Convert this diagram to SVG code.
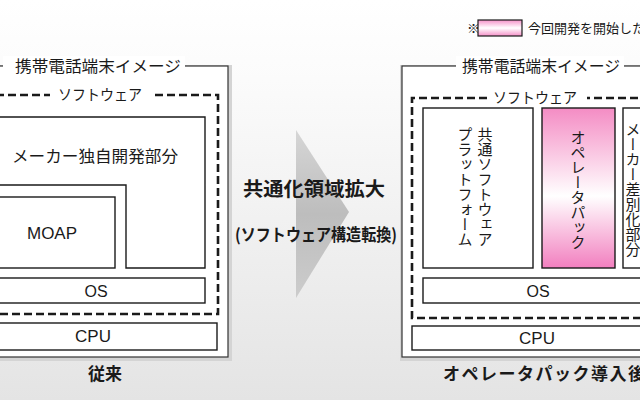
<svg xmlns="http://www.w3.org/2000/svg" width="640" height="400" viewBox="0 0 640 400">
  <defs>
    <linearGradient id="bg" x1="0" y1="0" x2="0" y2="1">
      <stop offset="0" stop-color="#ffffff"/>
      <stop offset="0.2" stop-color="#fbfbfb"/>
      <stop offset="1" stop-color="#e4e4e4"/>
    </linearGradient>
    <linearGradient id="pink" x1="0" y1="0" x2="0" y2="1">
      <stop offset="0" stop-color="#f48cc4"/>
      <stop offset="0.55" stop-color="#ffffff"/>
      <stop offset="1" stop-color="#f27fbf"/>
    </linearGradient>
    <linearGradient id="pinkLegend" x1="0" y1="0" x2="0" y2="1">
      <stop offset="0" stop-color="#f590c8"/>
      <stop offset="0.5" stop-color="#ffffff"/>
      <stop offset="1" stop-color="#f590c8"/>
    </linearGradient>
    <linearGradient id="arrowGrad" x1="0" y1="0" x2="0" y2="1">
      <stop offset="0" stop-color="#d6d6d6"/>
      <stop offset="0.5" stop-color="#bdbdbd"/>
      <stop offset="1" stop-color="#cccccc"/>
    </linearGradient>
    <style>
      text { font-family: "Noto Sans CJK JP", "Noto Sans", sans-serif; fill: #1a1a1a; }
      .latin { font-family: "Liberation Sans", Arial, sans-serif; }
      .outer { fill: #ffffff; stroke: #333333; stroke-width: 1.2; }
      .shadow { fill: none; stroke: #d4d4d4; stroke-width: 4; }
      .box { fill: #ffffff; stroke: #1a1a1a; stroke-width: 1.4; }
      .dash { fill: none; stroke: #1a1a1a; stroke-width: 2.6; stroke-dasharray: 8 4; }
      .t16 { font-size: 16px; }
      .t15 { font-size: 15px; }
      .bold { font-weight: bold; }
      .vert { writing-mode: vertical-rl; font-size: 15px; }
    </style>
  </defs>

  <rect x="0" y="0" width="640" height="400" fill="url(#bg)"/>

  <!-- Legend -->
  <g id="legend">
    <text x="467" y="33" font-size="13">※</text>
    <rect x="478" y="20" width="44" height="16" fill="url(#pinkLegend)" stroke="#1a1a1a" stroke-width="1.2"/>
    <text x="528" y="33" font-size="13">今回開発を開始した</text>
  </g>

  <!-- Left panel -->
  <g id="left-panel">
    <rect class="shadow" x="-10" y="67" width="240" height="292"/>
    <rect class="outer" x="-10" y="66" width="238" height="291"/>
    <rect x="3" y="56" width="182" height="20" fill="#ffffff"/>
    <text class="t16" x="98" y="72" text-anchor="middle" textLength="166" lengthAdjust="spacingAndGlyphs">携帯電話端末イメージ</text>
  </g>

  <g id="left-software">
    <path class="dash" d="M-4,95 H50 M155,95 H218 V314 H-4"/>
    <text class="t15" x="100" y="100" text-anchor="middle" textLength="84" lengthAdjust="spacingAndGlyphs">ソフトウェア</text>
  </g>

  <g id="left-maker">
    <path class="box" d="M-5,117 H205 V268 H126 V185 H-5"/>
    <text class="t16" x="95" y="162" text-anchor="middle" textLength="166" lengthAdjust="spacingAndGlyphs">メーカー独自開発部分</text>
  </g>

  <g id="left-moap">
    <rect class="box" x="-5" y="197" width="120" height="71"/>
    <text class="latin" font-size="17" x="52" y="239" text-anchor="middle">MOAP</text>
  </g>

  <g id="left-os">
    <rect class="box" x="-5" y="278" width="210" height="25"/>
    <text class="latin" font-size="16" x="96" y="297" text-anchor="middle">OS</text>
  </g>

  <g id="left-cpu">
    <rect class="box" x="-5" y="323" width="222" height="27"/>
    <text class="latin" font-size="17" x="93" y="342" text-anchor="middle">CPU</text>
  </g>

  <g id="left-caption">
    <text class="bold" font-size="17" x="105" y="380" text-anchor="middle">従来</text>
  </g>

  <!-- Middle arrow -->
  <g id="arrow">
    <polygon points="296,130 349,212 296,298" fill="url(#arrowGrad)"/>
    <text class="bold" font-size="19" x="314" y="196" text-anchor="middle" textLength="142" lengthAdjust="spacingAndGlyphs">共通化領域拡大</text>
    <text class="bold" font-size="17" x="316" y="241" text-anchor="middle" textLength="162" lengthAdjust="spacingAndGlyphs">(ソフトウェア構造転換)</text>
  </g>

  <!-- Right panel -->
  <g id="right-panel">
    <rect class="shadow" x="402" y="67" width="260" height="292"/>
    <rect class="outer" x="402" y="66" width="260" height="291"/>
    <rect x="456" y="56" width="168" height="20" fill="#ffffff"/>
    <text class="t16" x="541" y="72" text-anchor="middle" textLength="158" lengthAdjust="spacingAndGlyphs">携帯電話端末イメージ</text>
  </g>

  <g id="right-software">
    <path class="dash" d="M650,98 H587 M487,98 H412 V318 H650"/>
    <text class="t15" x="535" y="103" text-anchor="middle" textLength="84" lengthAdjust="spacingAndGlyphs">ソフトウェア</text>
  </g>

  <g id="right-platform">
    <rect class="box" x="423" y="108" width="110" height="160"/>
    <text class="vert" x="485" y="187" text-anchor="middle">共通ソフトウェア</text>
    <text class="vert" x="465" y="187" text-anchor="middle">プラットフォーム</text>
  </g>

  <g id="right-operator-pack">
    <rect x="542" y="108" width="73" height="160" fill="url(#pink)" stroke="#1a1a1a" stroke-width="1.4"/>
    <text class="vert" x="578" y="190" text-anchor="middle" font-size="16">オペレータパック</text>
  </g>

  <g id="right-maker">
    <rect class="box" x="623" y="108" width="60" height="160"/>
    <text class="vert" x="633" y="189" text-anchor="middle" font-size="16.5">メーカー差別化部分</text>
  </g>

  <g id="right-os">
    <rect class="box" x="423" y="278" width="260" height="25"/>
    <text class="latin" font-size="16" x="538" y="297" text-anchor="middle">OS</text>
  </g>

  <g id="right-cpu">
    <rect class="box" x="412" y="326" width="260" height="24"/>
    <text class="latin" font-size="17" x="537" y="344" text-anchor="middle">CPU</text>
  </g>

  <g id="right-caption">
    <text class="bold" font-size="17" x="443" y="380" letter-spacing="1.5">オペレータパック導入後</text>
  </g>

  <g id="connectors"></g>
</svg>
